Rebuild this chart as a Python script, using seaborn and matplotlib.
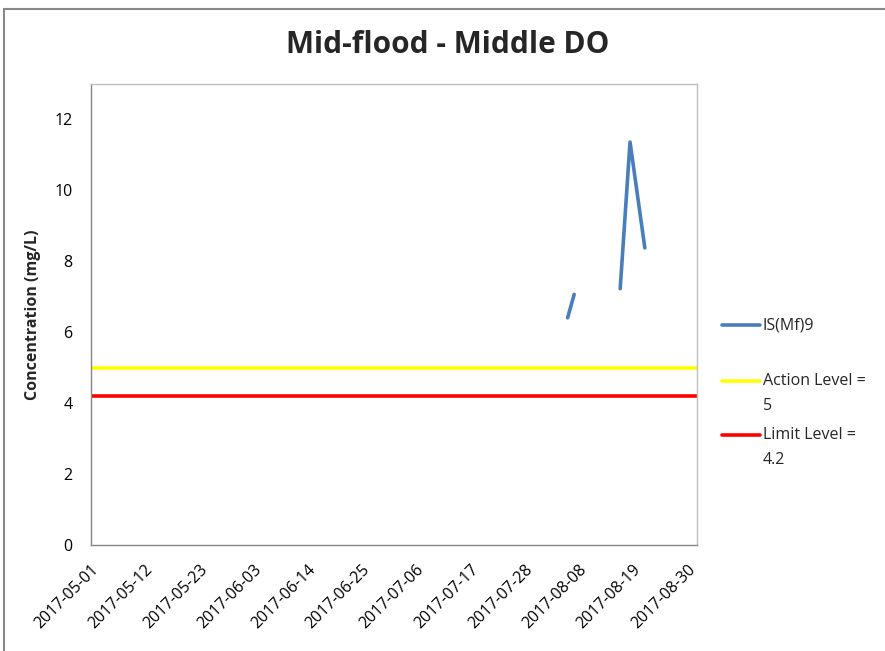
import matplotlib
matplotlib.use("Agg")
import matplotlib.pyplot as plt
from matplotlib.lines import Line2D
from matplotlib.patches import Rectangle
import seaborn as sns
import pandas as pd
import numpy as np

# ---- data ----
dates = ["2017-08-05 18:00", "2017-08-07 02:00", "2017-08-12 00:00",
         "2017-08-16 10:00", "2017-08-18 10:00", "2017-08-21 10:00"]
do_values = [6.40, 7.06, np.nan, 7.22, 11.35, 8.37]
series_name = "IS(Mf)9"
action_level = 5
limit_level = 4.2
legend_labels = [["IS(Mf)9"], ["Action Level =", "5"], ["Limit Level =", "4.2"]]
tick_labels = ["2017-05-01", "2017-05-12", "2017-05-23", "2017-06-03", "2017-06-14",
               "2017-06-25", "2017-07-06", "2017-07-17", "2017-07-28", "2017-08-08",
               "2017-08-19", "2017-08-30"]
y_ticks = [0, 2, 4, 6, 8, 10, 12]
x_range = ["2017-05-01", "2017-09-01"]
title = "Mid-flood - Middle DO"
y_label = "Concentration (mg/L)"

sns.set_style("white")
plt.rcParams['font.family'] = ['Open Sans', 'DejaVu Sans']

df = pd.DataFrame({"date": pd.to_datetime(dates), "value": do_values})
df["segment"] = df["value"].isna().cumsum()
df = df.dropna()

W, H = 885, 651
fig = plt.figure(figsize=(W / 100, H / 100), dpi=100)
ax = fig.add_axes([90.7 / W, 1 - 545 / H, (697 - 90.7) / W, (545 - 83.5) / H])

blue = "#4A7EBB"
yellow = "#FFFF00"
red = "#FF0000"
lw = 2.6
sns.lineplot(data=df, x="date", y="value", units="segment", estimator=None,
             color=blue, linewidth=lw, ax=ax, legend=False,
             solid_capstyle="round")
ax.axhline(action_level, color=yellow, linewidth=lw)
ax.axhline(limit_level, color=red, linewidth=lw)

ax.set_xlim(pd.to_datetime(x_range[0]), pd.to_datetime(x_range[1]))
ax.set_ylim(0, 13)
ax.set_yticks(y_ticks)
ax.set_yticklabels([str(v) for v in y_ticks])
ax.set_xticks(pd.to_datetime(tick_labels))
ax.set_xticklabels(tick_labels, rotation=45, ha="right", rotation_mode="anchor")
ax.tick_params(axis="both", direction="out", length=5, width=1, color="#868686",
               labelsize=11.5, labelcolor="#000000")
ax.tick_params(axis="y", pad=8)
ax.tick_params(axis="x", pad=7)
ax.set_xlabel("")
ax.set_ylabel(y_label, fontsize=11.5, fontweight="bold", labelpad=10)

for side in ["top", "right"]:
    ax.spines[side].set_color("#BFBFBF")
for side in ["left", "bottom"]:
    ax.spines[side].set_color("#868686")
for s in ax.spines.values():
    s.set_linewidth(1)

fig.text(448 / W, 1 - 45 / H, title, ha="center", va="center",
         fontsize=21.5, fontweight="bold")

# legend drawn at fixed positions (handles aligned with first text line)
legend_colors = [blue, yellow, red]
legend_y = [325, 381, 435]
line_gap = 25
for labels, color, y in zip(legend_labels, legend_colors, legend_y):
    fig.add_artist(Line2D([722 / W, 760 / W], [1 - y / H, 1 - y / H],
                          transform=fig.transFigure, color=color, lw=lw))
    for i, txt in enumerate(labels):
        fig.text(763 / W, 1 - (y + i * line_gap) / H, txt, ha="left", va="center",
                 fontsize=11.5)

fig.patches.append(Rectangle((4 / W, -0.1), 1.2, 1.1 - 9 / H, transform=fig.transFigure,
                             fill=False, edgecolor="#888888", linewidth=1.5))

fig.savefig("out.png", dpi=100)
